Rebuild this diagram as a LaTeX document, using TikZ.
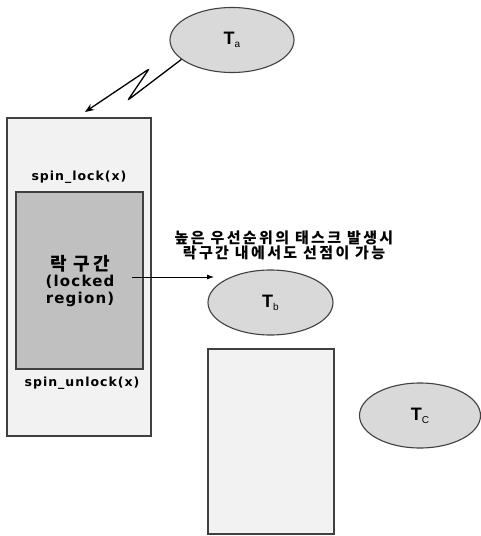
\documentclass[tikz,border=0pt]{standalone}
\usepackage{fontspec}
\usetikzlibrary{shapes.geometric,arrows.meta}
\newfontfamily\latb[LetterSpace=8]{DejaVu Sans Bold}
\newfontfamily\kob[LetterSpace=16]{Noto Sans CJK KR Black}
\newfontfamily\tfont{Liberation Sans}
\newfontfamily\tfontb{Liberation Sans Bold}
\definecolor{boxfill}{HTML}{F2F2F2}
\definecolor{lockfill}{HTML}{C0C0C0}
\definecolor{taskfill}{HTML}{D9D9D9}
\definecolor{edge}{HTML}{404040}
\begin{document}
\begin{tikzpicture}[x=1pt,y=-1pt,
  panel/.style={draw=edge,line width=1.1pt,fill=boxfill,rectangle,inner sep=0pt},
  lockbox/.style={draw=edge,line width=1.1pt,fill=lockfill,rectangle,inner sep=0pt},
  task/.style={draw=edge,line width=1.1pt,fill=taskfill,ellipse,inner sep=0pt},
  lbl/.style={inner sep=0pt,align=center,text=black},
  conn/.style={black,line width=1.3pt}]
\useasboundingbox (0,0) rectangle (481,536);
% boxes
\node[panel,minimum width=144pt,minimum height=318pt] (outer) at (79,277) {};
\node[lockbox,minimum width=127pt,minimum height=177pt] (inner) at (79.5,280.5) {};
\node[panel,minimum width=126pt,minimum height=185pt] (lower) at (271,441.5) {};
% tasks
\node[task,minimum width=124pt,minimum height=65pt] (Ta) at (232,40) {\tfontb\fontsize{18}{18}\selectfont T\raisebox{-3pt}{\tfont\fontsize{10}{10}\selectfont a}};
\node[task,minimum width=125pt,minimum height=65pt] (Tb) at (270.5,302.5) {\tfontb\fontsize{18}{18}\selectfont T\raisebox{-3pt}{\tfont\fontsize{10}{10}\selectfont b}};
\node[task,minimum width=121pt,minimum height=65pt] (Tc) at (420,415.5) {\tfontb\fontsize{18}{18}\selectfont T\raisebox{-3pt}{\tfont\fontsize{10}{10}\selectfont C}};
% labels
\node[lbl,font=\latb\fontsize{12.5}{13}\selectfont] (lk) at (79,177) {spin\_lock(x)};
\node[lbl,font=\latb\fontsize{12.5}{13}\selectfont] (ulk) at (82,383) {spin\_unlock(x)};
\node[lbl,font=\latb\fontsize{15}{16.5}\selectfont] (reg) at (80,281) {{\kob\fontsize{18}{16.5}\selectfont 락 구간}\\(locked\\region)};
\node[lbl,font=\kob\fontsize{15}{12.5}\selectfont] (note) at (284,245.5) {높은 우선순위의 태스크 발생시\\락구간 내에서도 선점이 가능};
% connectors
\coordinate (z1) at (128,100);
\coordinate (z2) at (149,69);
\coordinate (tip) at (85,112);
\draw[conn,rounded corners=2pt,-{Stealth[length=9pt,width=7pt]}] (Ta.201) -- (z1) -- (z2) -- (tip);
\coordinate (hs) at (132,277);
\coordinate (he) at (214,277);
\draw[black,line width=0.8pt,-{Latex[length=7pt,width=5pt]}] (hs) -- (he);
\end{tikzpicture}
\end{document}
